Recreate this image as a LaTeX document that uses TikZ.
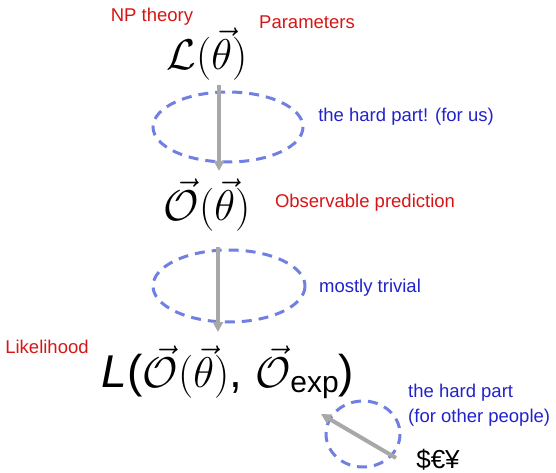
\RequirePackage{fix-cm}
\documentclass[tikz,border=0pt]{standalone}
\usepackage{amsmath}
\usepackage{fontspec}
\setmainfont{Liberation Sans}
\usetikzlibrary{arrows.meta}
\definecolor{labred}{RGB}{214,22,22}
\definecolor{labblue}{RGB}{34,34,204}
\definecolor{dashblue}{RGB}{112,128,226}
\definecolor{arrgray}{RGB}{168,168,168}
\tikzset{
  redlab/.style={text=labred,font=\fontsize{18.5}{22}\selectfont,inner sep=0pt},
  bluelab/.style={text=labblue,font=\fontsize{18.5}{22}\selectfont,inner sep=0pt,align=left},
  bigmath/.style={font=\fontsize{43}{46}\selectfont,inner sep=0pt},
  dashring/.style={draw=dashblue,line width=3pt,dash pattern=on 10pt off 7pt},
  flow/.style={draw=arrgray,line width=4pt,-{Triangle[width=10pt,length=10pt]}}
}
\begin{document}
\begin{tikzpicture}[x=1pt,y=-1pt]
\useasboundingbox (0,0) rectangle (556,473);
% labels
\node[redlab] (np) at (152,17) {NP theory};
\node[redlab] (par) at (307,22) {Parameters};
\node[redlab] (obs) at (365,203) {Observable prediction};
\node[redlab] (lik) at (47,347) {Likelihood};
\node[bluelab] (hard) at (406,117) {the hard part! (for us)};
\node[bluelab] (triv) at (370,288) {mostly trivial};
\node[bluelab,anchor=west] (hard2) at (408,393) {the hard part};
\node[bluelab,anchor=west] (hard3) at (408,418) {(for other people)};
% main expressions
\node[bigmath] (Lt) at (207,54) {$\mathcal{L}(\vec{\theta})$};
\node[bigmath] (Ot) at (207,205) {$\vec{\mathcal{O}}(\vec{\theta})$};
\node[font=\fontsize{46}{50}\selectfont,inner sep=0pt] (Lik) at (228,372) {\textit{L}({\fontsize{43}{46}\selectfont$\vec{\mathcal{O}}(\vec{\theta})$}, {\fontsize{43}{46}\selectfont$\vec{\mathcal{O}}$}{\fontsize{30}{32}\selectfont\raisebox{-0.3ex}{exp}})};
\node[font=\fontsize{26}{28}\selectfont,inner sep=0pt] (money) at (438,460) {\$€¥};
% dashed rings
\draw[dashring] (228,127) ellipse [x radius=75, y radius=35];
\draw[dashring] (229,286) ellipse [x radius=76, y radius=36];
\draw[dashring] (363,434) ellipse [x radius=37, y radius=33];
% arrows
\coordinate (a1s) at (219,85);
\coordinate (a1e) at (219,171);
\coordinate (a2s) at (218,247);
\coordinate (a2e) at (218,332);
\coordinate (a3s) at (396,458);
\coordinate (a3e) at (321,414);
\draw[flow] (a1s) -- (a1e);
\draw[flow] (a2s) -- (a2e);
\draw[flow] (a3s) -- (a3e);
\end{tikzpicture}
\end{document}
